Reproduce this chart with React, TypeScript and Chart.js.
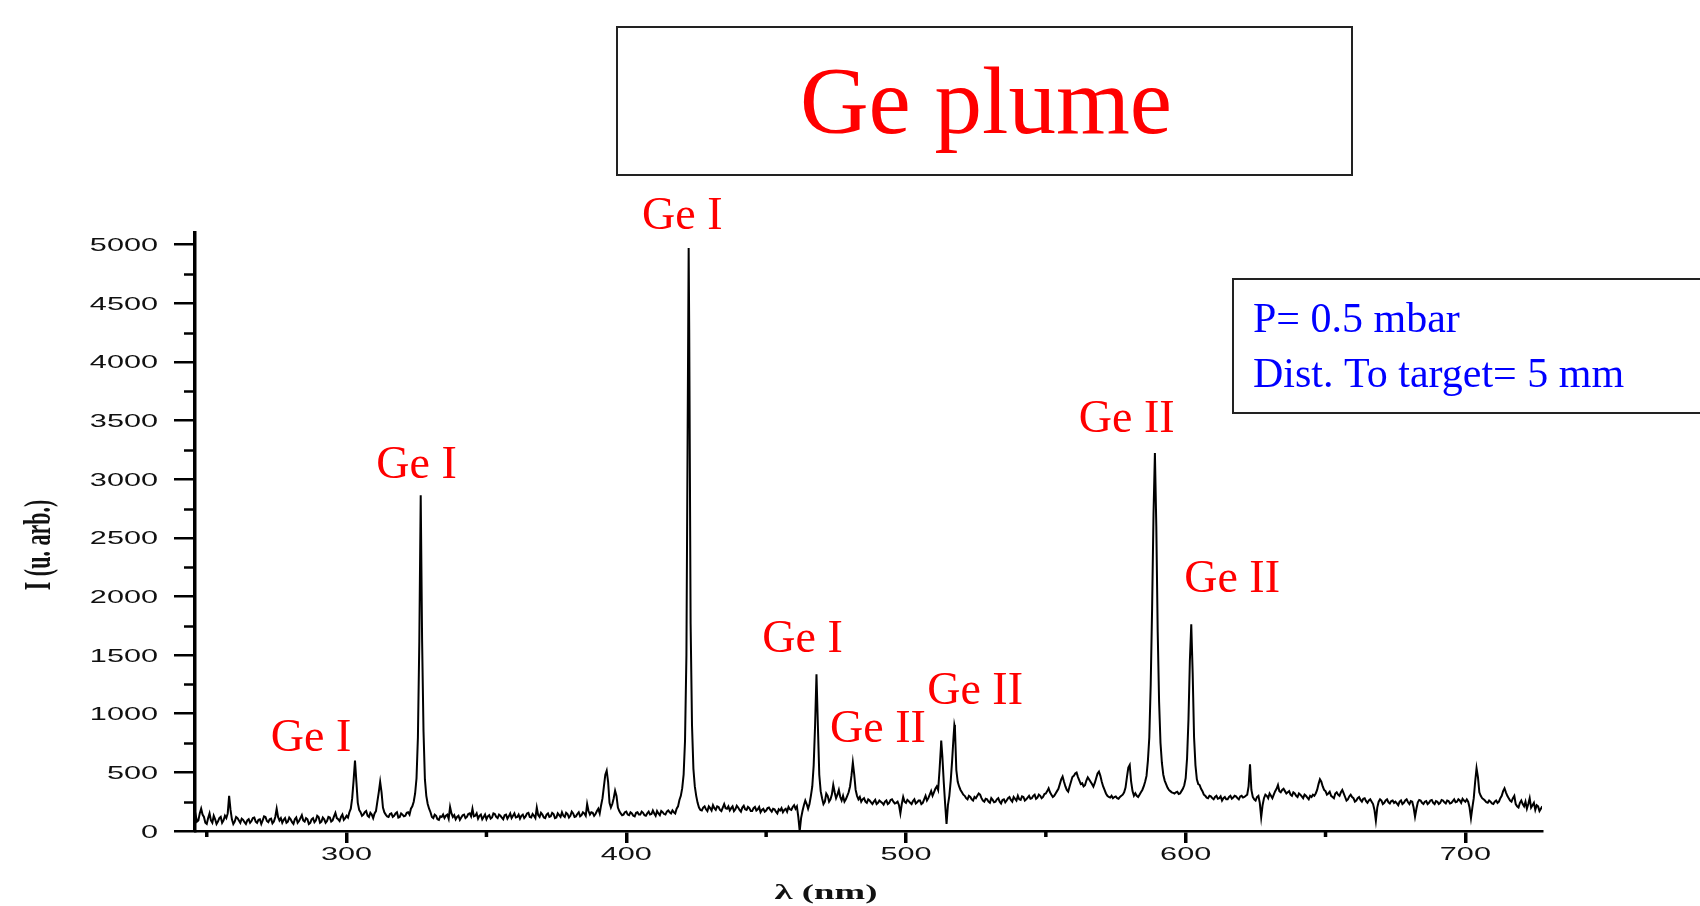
import { useEffect, useRef } from "react";
import { Chart, registerables } from "chart.js";

Chart.register(...registerables);

// Emission spectrum of the Ge plume. Whole-nm samples start at 245 nm,
// the interleaved half-nm samples start at 245.5 nm.
const LAMBDA_START = 245;
const HALF_START = 245.5;
const LAMBDA_STEP = 1;

const intensity = [
  /* 245 */ 100, 140, 90, 190, 120, 60, 150, 70, 100, 80,
  /* 255 */ 120, 90, 110, 300, 100, 80, 110, 70, 95, 60,
  /* 265 */ 100, 85, 115, 70, 100, 90, 120, 75, 105, 80,
  /* 275 */ 190, 90, 70, 110, 80, 100, 60, 115, 85, 135,
  /* 285 */ 80, 100, 70, 110, 90, 120, 80, 100, 85, 115,
  /* 295 */ 90, 155, 100, 120, 95, 130, 160, 280, 600, 240,
  /* 305 */ 160, 140, 170, 120, 140, 150, 250, 420, 200, 140,
  /* 315 */ 120, 150, 130, 160, 120, 140, 130, 160, 190, 250,
  /* 325 */ 450, 1620, 1620, 440, 230, 160, 110, 130, 95, 120,
  /* 335 */ 110, 140, 205, 120, 100, 130, 115, 140, 120, 150,
  /* 345 */ 190, 130, 105, 140, 120, 100, 135, 115, 145, 110,
  /* 355 */ 130, 100, 140, 125, 110, 150, 120, 105, 140, 125,
  /* 365 */ 155, 115, 130, 200, 120, 140, 110, 150, 125, 145,
  /* 375 */ 115, 135, 160, 120, 145, 130, 150, 125, 160, 135,
  /* 385 */ 150, 230, 140, 155, 145, 190, 220, 380, 515, 240,
  /* 395 */ 230, 344, 200, 150, 140, 165, 135, 150, 125, 160,
  /* 405 */ 140, 155, 130, 165, 145, 150, 170, 135, 160, 140,
  /* 415 */ 175, 150, 160, 190, 265, 365, 770, 3680, 1770, 530,
  /* 425 */ 300, 200, 175, 210, 170, 195, 220, 180, 205, 170,
  /* 435 */ 230, 190, 175, 210, 185, 200, 165, 215, 180, 195,
  /* 445 */ 170, 205, 185, 160, 190, 175, 200, 165, 185, 150,
  /* 455 */ 175, 160, 190, 205, 180, 220, 210, 0, 170, 260,
  /* 465 */ 190, 300, 560, 1336, 480, 280, 250, 300, 270, 392,
  /* 475 */ 280, 350, 260, 250, 300, 380, 583, 350, 270, 250,
  /* 485 */ 280, 240, 260, 230, 265, 240, 250, 225, 260, 240,
  /* 495 */ 270, 235, 250, 150, 290, 240, 255, 230, 270, 245,
  /* 505 */ 260, 240, 300, 280, 340, 330, 380, 520, 640, 230,
  /* 515 */ 220, 430, 800, 520, 380, 330, 300, 270, 290, 260,
  /* 525 */ 280, 320, 280, 250, 270, 240, 265, 250, 280, 235,
  /* 535 */ 270, 260, 290, 250, 275, 300, 265, 290, 270, 300,
  /* 545 */ 280, 310, 285, 300, 290, 320, 364, 310, 300, 340,
  /* 555 */ 400, 464, 380, 336, 420, 470, 498, 430, 407, 390,
  /* 565 */ 458, 420, 378, 450, 506, 420, 350, 300, 285, 280,
  /* 575 */ 295, 275, 300, 330, 460, 563, 340, 321, 290, 330,
  /* 585 */ 380, 470, 800, 1900, 3224, 1700, 750, 480, 400, 350,
  /* 595 */ 330, 320, 335, 320, 360, 450, 950, 1762, 800, 440,
  /* 605 */ 392, 340, 300, 280, 295, 270, 300, 280, 260, 290,
  /* 615 */ 270, 300, 285, 295, 270, 300, 290, 310, 569, 290,
  /* 625 */ 260, 300, 117, 280, 300, 320, 280, 340, 392, 330,
  /* 635 */ 360, 320, 340, 300, 320, 290, 310, 280, 300, 270,
  /* 645 */ 290, 300, 350, 441, 380, 340, 320, 300, 280, 330,
  /* 655 */ 300, 350, 290, 270, 310, 280, 260, 290, 250, 280,
  /* 665 */ 240, 270, 230, 88, 250, 260, 240, 270, 235, 260,
  /* 675 */ 250, 220, 260, 240, 270, 230, 250, 122, 245, 260,
  /* 685 */ 230, 255, 240, 265, 230, 250, 240, 260, 235, 255,
  /* 695 */ 240, 270, 250, 260, 275, 250, 250, 110, 280, 535,
  /* 705 */ 330, 280, 260, 240, 250, 230, 260, 250, 300, 364,
  /* 715 */ 300, 260, 280, 230, 200, 260, 210, 190, 280, 220,
  /* 725 */ 180, 210, 190, 200,
];

const intensityHalf = [
  /* 245.5 */ 120, 80, 150, 140, 70, 110, 90, 130, 60, 110,
  /* 255.5 */ 70, 130, 150, 180, 60, 120, 90, 105, 75, 90,
  /* 265.5 */ 70, 110, 80, 95, 60, 125, 85, 100, 65, 120,
  /* 275.5 */ 120, 110, 95, 70, 115, 75, 100, 70, 110, 90,
  /* 285.5 */ 110, 60, 100, 75, 130, 70, 115, 70, 120, 80,
  /* 295.5 */ 125, 110, 85, 140, 110, 115, 190, 430, 420, 180,
  /* 305.5 */ 130, 160, 130, 155, 110, 170, 330, 330, 160, 125,
  /* 315.5 */ 145, 120, 150, 115, 150, 125, 155, 140, 210, 320,
  /* 325.5 */ 800, 2863, 850, 300, 190, 120, 140, 100, 125, 140,
  /* 335.5 */ 130, 105, 150, 135, 120, 95, 135, 110, 145, 125,
  /* 345.5 */ 125, 150, 130, 100, 140, 125, 105, 150, 120, 140,
  /* 355.5 */ 115, 135, 105, 150, 130, 115, 140, 130, 110, 150,
  /* 365.5 */ 120, 145, 110, 135, 155, 115, 140, 120, 155, 110,
  /* 375.5 */ 150, 120, 130, 155, 115, 165, 120, 145, 125, 160,
  /* 385.5 */ 130, 170, 160, 130, 170, 150, 280, 480, 420, 200,
  /* 395.5 */ 280, 300, 170, 135, 160, 140, 160, 130, 155, 140,
  /* 405.5 */ 165, 135, 150, 140, 175, 130, 150, 170, 145, 165,
  /* 415.5 */ 160, 175, 150, 210, 300, 480, 1500, 4280, 900, 380,
  /* 425.5 */ 240, 180, 200, 185, 210, 175, 195, 210, 180, 200,
  /* 435.5 */ 195, 210, 195, 170, 215, 180, 200, 185, 205, 170,
  /* 445.5 */ 195, 175, 205, 180, 165, 195, 180, 190, 165, 185,
  /* 455.5 */ 195, 180, 165, 185, 205, 190, 120, 110, 220, 230,
  /* 465.5 */ 230, 380, 900, 900, 340, 230, 320, 250, 310, 330,
  /* 475.5 */ 310, 290, 300, 270, 330, 470, 480, 300, 290, 270,
  /* 485.5 */ 250, 270, 245, 250, 230, 260, 240, 250, 230, 265,
  /* 495.5 */ 250, 240, 220, 230, 250, 265, 240, 255, 235, 260,
  /* 505.5 */ 230, 270, 260, 310, 300, 360, 350, 720, 420, 60,
  /* 515.5 */ 300, 600, 880, 420, 350, 310, 280, 300, 270, 290,
  /* 525.5 */ 300, 310, 260, 275, 250, 280, 245, 270, 250, 265,
  /* 535.5 */ 245, 280, 265, 290, 260, 270, 295, 260, 285, 275,
  /* 545.5 */ 300, 275, 310, 280, 315, 340, 330, 290, 320, 360,
  /* 555.5 */ 440, 420, 350, 380, 460, 490, 460, 400, 380, 430,
  /* 565.5 */ 440, 400, 410, 490, 470, 380, 320, 290, 300, 290,
  /* 575.5 */ 280, 290, 310, 370, 540, 420, 300, 300, 310, 350,
  /* 585.5 */ 420, 600, 1250, 2700, 2600, 1100, 580, 430, 370, 340,
  /* 595.5 */ 325, 330, 315, 340, 390, 620, 1450, 1350, 560, 400,
  /* 605.5 */ 360, 310, 285, 300, 280, 290, 275, 295, 280, 270,
  /* 615.5 */ 290, 275, 300, 280, 295, 285, 300, 380, 350, 270,
  /* 625.5 */ 290, 240, 220, 310, 280, 300, 310, 360, 340, 350,
  /* 635.5 */ 340, 330, 310, 330, 300, 320, 295, 310, 285, 300,
  /* 645.5 */ 310, 320, 400, 420, 350, 310, 335, 290, 320, 310,
  /* 655.5 */ 330, 320, 260, 295, 290, 250, 280, 265, 275, 255,
  /* 665.5 */ 260, 250, 180, 200, 270, 230, 260, 245, 255, 240,
  /* 675.5 */ 235, 250, 230, 260, 245, 255, 200, 190, 265, 240,
  /* 685.5 */ 250, 230, 260, 240, 255, 230, 265, 245, 260, 235,
  /* 695.5 */ 255, 245, 270, 240, 260, 270, 200, 200, 420, 460,
  /* 705.5 */ 300, 270, 245, 260, 235, 250, 240, 280, 340, 330,
  /* 715.5 */ 280, 250, 300, 210, 240, 230, 250, 230, 200, 240,
  /* 725.5 */ 220, 170, 210,
];

// Line maxima that fall between the samples.
const lineLambda = [422.3, 512.6, 517.3];
const lineIntensity = [4972, 771, 904];

// Axis ranges and ticks.
const X_MIN = 245.8;
const X_MAX = 727.4;
const Y_MIN = 0;
const Y_MAX = 5100;
const xMajorTicks = [300, 400, 500, 600, 700];
const xMinorTicks = [250, 350, 450, 550, 650];
const yMajorTicks = [0, 500, 1000, 1500, 2000, 2500, 3000, 3500, 4000, 4500, 5000];
const yMinorTicks = [250, 750, 1250, 1750, 2250, 2750, 3250, 3750, 4250, 4750];

// Species labels over the emission lines (anchor: centre wavelength, baseline intensity).
const labelText = ["Ge I", "Ge I", "Ge I", "Ge I", "Ge II", "Ge II", "Ge II", "Ge II"];
const labelLambda = [287.3, 325.0, 420.0, 463.0, 490.0, 524.7, 578.9, 616.6];
const labelIntensity = [683, 3010, 5130, 1530, 755, 1080, 3400, 2040];

const titleText = "Ge plume";
const infoLines = ["P= 0.5 mbar", "Dist. To target= 5 mm"];
const xTitle = "λ (nm)";
const yTitle = "I (u. arb.)";

const SERIF = '"Liberation Serif", "Times New Roman", serif';
const SANS = '"Liberation Sans", Arial, sans-serif';
const STRETCH = 1.75;

function stretchedText(
  ctx: CanvasRenderingContext2D,
  text: string,
  x: number,
  y: number,
  align: CanvasTextAlign
) {
  ctx.save();
  ctx.translate(x, y);
  ctx.scale(STRETCH, 1);
  ctx.textAlign = align;
  ctx.textBaseline = "alphabetic";
  ctx.fillText(text, 0, 0);
  ctx.restore();
}

const decorPlugin = {
  id: "spectrumDecor",
  afterDraw(chart: Chart) {
    const ctx = chart.ctx;
    const xs = chart.scales.x;
    const ys = chart.scales.y;
    const area = chart.chartArea;
    ctx.save();

    // minor ticks
    ctx.strokeStyle = "#000";
    ctx.lineWidth = 2.5;
    for (const v of yMinorTicks) {
      const py = Math.round(ys.getPixelForValue(v)) + 0.5;
      ctx.beginPath();
      ctx.moveTo(area.left - 11, py);
      ctx.lineTo(area.left, py);
      ctx.stroke();
    }
    ctx.lineWidth = 3.5;
    for (const v of xMinorTicks) {
      const px = xs.getPixelForValue(v);
      ctx.beginPath();
      ctx.moveTo(px, area.bottom);
      ctx.lineTo(px, area.bottom + 6);
      ctx.stroke();
    }

    // tick labels
    ctx.fillStyle = "#111";
    ctx.font = `17.5px ${SANS}`;
    for (const v of yMajorTicks) {
      stretchedText(ctx, String(v), area.left - 37, ys.getPixelForValue(v) + 6.5, "right");
    }
    for (const v of xMajorTicks) {
      stretchedText(ctx, String(v), xs.getPixelForValue(v), area.bottom + 29, "center");
    }

    // axis titles
    ctx.font = `bold 21px ${SERIF}`;
    stretchedText(ctx, xTitle, 826, 899, "center");
    ctx.save();
    ctx.translate(40, 545);
    ctx.scale(STRETCH, 1);
    ctx.rotate(-Math.PI / 2);
    ctx.font = `bold 22px ${SERIF}`;
    ctx.textAlign = "center";
    ctx.textBaseline = "middle";
    ctx.fillText(yTitle, 0, 0);
    ctx.restore();

    // species labels
    ctx.fillStyle = "#ff0000";
    ctx.font = `46px ${SERIF}`;
    ctx.textAlign = "center";
    ctx.textBaseline = "alphabetic";
    labelText.forEach((t, i) => {
      ctx.fillText(t, xs.getPixelForValue(labelLambda[i]), ys.getPixelForValue(labelIntensity[i]));
    });

    // title box
    ctx.strokeStyle = "#222";
    ctx.lineWidth = 2;
    ctx.strokeRect(617, 27, 735, 148);
    ctx.fillStyle = "#ff0000";
    ctx.font = `95px ${SERIF}`;
    ctx.textAlign = "center";
    ctx.fillText(titleText, 986, 133);

    // experimental conditions box
    ctx.strokeRect(1233, 279, 500, 134);
    ctx.fillStyle = "#0000ff";
    ctx.font = `42px ${SERIF}`;
    ctx.textAlign = "left";
    infoLines.forEach((t, i) => ctx.fillText(t, 1253, 332 + i * 55));

    ctx.restore();
  },
};

export default function App() {
  const canvasRef = useRef<HTMLCanvasElement>(null);

  useEffect(() => {
    const wholePoints = intensity.map((v, i) => ({ x: LAMBDA_START + i * LAMBDA_STEP, y: v }));
    const halfPoints = intensityHalf.map((v, i) => ({ x: HALF_START + i * LAMBDA_STEP, y: v }));
    const linePoints = lineLambda.map((x, i) => ({ x, y: lineIntensity[i] }));
    const spectrum = [...wholePoints, ...halfPoints, ...linePoints].sort((a, b) => a.x - b.x);

    const chart = new Chart(canvasRef.current as HTMLCanvasElement, {
      type: "scatter",
      data: {
        datasets: [
          {
            data: spectrum,
            showLine: true,
            borderColor: "#000",
            borderWidth: 2,
            pointRadius: 0,
            tension: 0,
          },
        ],
      },
      options: {
        animation: false,
        responsive: false,
        devicePixelRatio: 1,
        layout: { padding: { left: 174, right: 158, top: 233, bottom: 63 } },
        plugins: { legend: { display: false }, tooltip: { enabled: false } },
        scales: {
          x: {
            type: "linear",
            position: "bottom",
            min: X_MIN,
            max: X_MAX,
            afterBuildTicks: (scale: any) => {
              scale.ticks = xMajorTicks.map((value) => ({ value }));
            },
            ticks: { display: false },
            grid: {
              display: true,
              drawOnChartArea: false,
              drawTicks: true,
              tickLength: 12,
              lineWidth: 3.5,
              tickWidth: 3.5,
              tickColor: "#000",
            },
            border: { display: true, color: "#000", width: 2.5 },
          },
          y: {
            type: "linear",
            position: "left",
            min: Y_MIN,
            max: Y_MAX,
            afterBuildTicks: (scale: any) => {
              scale.ticks = yMajorTicks.map((value) => ({ value }));
            },
            ticks: { display: false },
            grid: {
              display: true,
              drawOnChartArea: false,
              drawTicks: true,
              tickLength: 21,
              lineWidth: 2.5,
              tickWidth: 2.5,
              tickColor: "#000",
            },
            border: { display: true, color: "#000", width: 3.5 },
          },
        },
      },
      plugins: [decorPlugin],
    });

    return () => chart.destroy();
  }, []);

  return (
    <div style={{ position: "absolute", left: 0, top: 0, width: 1700, height: 906, background: "#fff" }}>
      <canvas ref={canvasRef} width={1700} height={906} style={{ display: "block", width: 1700, height: 906 }} />
    </div>
  );
}
